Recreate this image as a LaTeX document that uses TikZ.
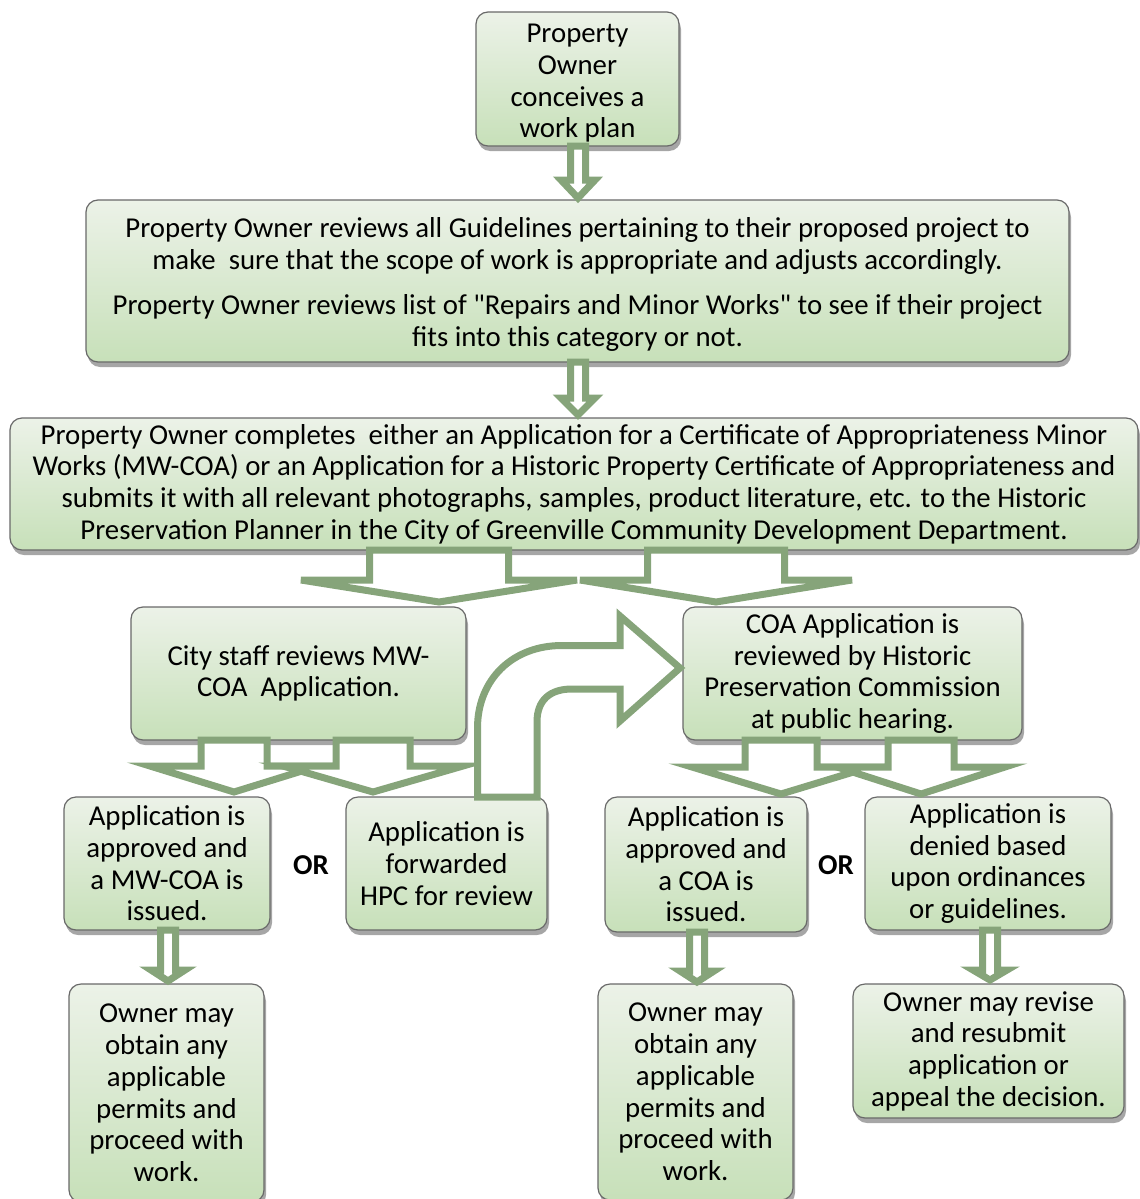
\documentclass[tikz,border=0pt]{standalone}
\usepackage{fontspec}
\setmainfont{Carlito}[Ligatures=TeXOff]
\usetikzlibrary{shadows}
\definecolor{arrowgreen}{RGB}{134,164,122}
\definecolor{boxtop}{RGB}{236,242,232}
\definecolor{boxbot}{RGB}{199,224,185}
\definecolor{boxline}{RGB}{105,105,105}
\tikzset{
  flowbox/.style={rounded corners=6pt, draw=boxline, line width=0.6pt,
    top color=boxtop, bottom color=boxbot, align=center, inner sep=0pt,
    font=\fontsize{14.4}{15.85}\selectfont,
    drop shadow={shadow xshift=1pt, shadow yshift=-2.5pt, opacity=0.35, fill=black}},
  blockarrow/.style={draw=arrowgreen, line width=3.5pt, fill=white, line join=miter},
  orlabel/.style={font=\fontsize{14.4}{15.85}\selectfont\bfseries, inner sep=0pt},
}
% box: name, x1, y1, x2, y2, text  (pixel coordinates, y downwards)
\newcommand\flowboxat[6]{\node[flowbox, minimum width={(#4-#2)*0.5pt}, minimum height={(#5-#3)*0.5pt}] (#1) at ({(#2+#4)/2},{(#3+#5)/2}) {#6};}
% down block arrow: cx, ytop, ybase, ytip, shaft half, head half
\newcommand\dnarrow[6]{\draw[blockarrow] (#1-#5,#2) -- (#1-#5,#3) -- (#1-#6,#3) -- (#1,#4) -- (#1+#6,#3) -- (#1+#5,#3) -- (#1+#5,#2) -- cycle;}
\newcommand\topstrut{\rule{0pt}{13.5pt}}
\begin{document}
\begin{tikzpicture}[x=0.5pt, y=-0.5pt]
\useasboundingbox (0,0) rectangle (1140,1199);

\flowboxat{b1}{476}{12}{679}{146}{\topstrut Property\\Owner\\conceives a\\work plan}
\flowboxat{b2}{86}{200}{1069}{362}{\topstrut Property Owner reviews all Guidelines pertaining to their proposed project to\\make\ \ sure that the scope of work is appropriate and adjusts accordingly.\\[6.5pt]Property Owner reviews list of "Repairs and Minor Works" to see if their project\\fits into this category or not.}
\flowboxat{b3}{10}{418}{1138}{550}{Property Owner completes\ \ either an Application for a Certificate of Appropriateness Minor\\Works (MW-COA) or an Application for a Historic Property Certificate of Appropriateness and\\submits it with all relevant photographs, samples, product literature, etc. to the Historic\\Preservation Planner in the City of Greenville Community Development Department.}
\flowboxat{b4}{131}{607}{466}{740}{City staff reviews MW-\\COA\ \ Application.}
\flowboxat{b5}{683}{607}{1022}{740}{COA Application is\\reviewed by Historic\\Preservation Commission\\at public hearing.}
\flowboxat{b6}{64}{797}{270}{930}{Application is\\approved and\\a MW-COA is\\issued.}
\flowboxat{b7}{346}{797}{547}{930}{Application is\\forwarded\\HPC for review}
\flowboxat{b8}{605}{797}{807}{932}{Application is\\approved and\\a COA is\\issued.}
\flowboxat{b9}{865}{797}{1111}{930}{Application is\\denied based\\upon ordinances\\or guidelines.}
\flowboxat{b10}{69}{984}{264}{1202}{Owner may\\obtain any\\applicable\\permits and\\proceed with\\work.}
\flowboxat{b11}{598}{984}{793}{1200}{Owner may\\obtain any\\applicable\\permits and\\proceed with\\work.}
\flowboxat{b12}{853}{984}{1124}{1118}{Owner may revise\\and resubmit\\application or\\appeal the decision.}

\node[orlabel] (or1) at (311,865) {OR};
\node[orlabel] (or2) at (836,865) {OR};

% single arrows
\dnarrow{578}{146}{180}{198}{7.5}{17}
\dnarrow{578}{362}{398}{415}{7.5}{17}
\dnarrow{168}{930}{970}{981}{7.5}{17}
\dnarrow{697}{932}{971}{982}{7.5}{17}
\dnarrow{990}{930}{970}{980}{7.5}{17}

% split arrows from b3
\dnarrow{439}{550}{580}{602}{69.5}{138}
\dnarrow{716}{550}{580}{602}{68.5}{136}
% split arrows from b4
\dnarrow{234}{740}{766}{792}{33}{84}
\dnarrow{373}{740}{766}{792}{37}{90}
% split arrows from b5
\dnarrow{781}{740}{767}{794}{36}{89}
\dnarrow{921}{740}{767}{794}{33}{84}

% curved arrow from b7 to b5
\draw[blockarrow] (477.5,797) -- (477.5,728)
  .. controls (477.5,680) and (512,645.5) .. (562,645.5)
  -- (620,645.5) -- (620,616) -- (680,668) -- (620,721) -- (620,689)
  -- (572,689) .. controls (550,689) and (537,700) .. (537,722)
  -- (537,797) -- cycle;
\end{tikzpicture}
\end{document}
